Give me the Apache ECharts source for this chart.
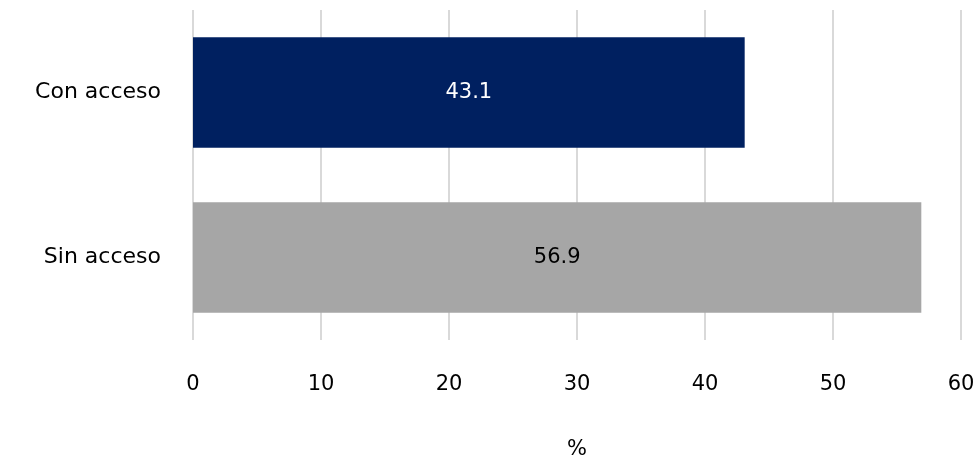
<!DOCTYPE html>
<html>
<head>
<meta charset="utf-8">
<script src="https://cdn.jsdelivr.net/npm/echarts@6/dist/echarts.min.js"></script>
<style>
  html, body { margin: 0; padding: 0; background: #fff; }
  #chart { width: 979px; height: 464px; }
</style>
</head>
<body>
<div id="chart"></div>
<script>
// Share of population with and without access (%)
const categories = ['Con acceso', 'Sin acceso'];
const values = [43.1, 56.9];
const barColors = ['#002060', '#A6A6A6'];
const labelColors = ['#ffffff', '#000000'];
const axisName = '%';

const FONT = '"DejaVu Sans", "Noto Sans", sans-serif';

const chart = echarts.init(document.getElementById('chart'));
chart.setOption({
  animation: false,
  grid: {
    left: 193, right: 18, top: 10, bottom: 124,
    containLabel: false,
    outerBoundsMode: 'none'
  },
  xAxis: {
    type: 'value',
    min: 0,
    max: 60,
    interval: 10,
    name: axisName,
    nameLocation: 'middle',
    nameGap: 99,
    nameTextStyle: { color: '#000', fontSize: 21, fontFamily: FONT },
    axisLine: { show: false },
    axisTick: { show: false },
    axisLabel: { color: '#000', fontSize: 21, fontFamily: FONT, margin: 34 },
    splitLine: { show: true, lineStyle: { color: '#D9D9D9', width: 2 } }
  },
  yAxis: {
    type: 'category',
    inverse: true,
    data: categories,
    axisLine: { show: false },
    axisTick: { show: false },
    axisLabel: { color: '#000', fontSize: 22, fontFamily: FONT, margin: 32 }
  },
  series: [{
    type: 'bar',
    barWidth: '67%',
    data: values.map((v, i) => ({
      value: v,
      itemStyle: { color: barColors[i] },
      label: { color: labelColors[i] }
    })),
    label: {
      show: true,
      position: 'inside',
      fontSize: 21,
      fontFamily: FONT,
      formatter: p => p.value.toFixed(1)
    }
  }]
});
</script>
</body>
</html>
